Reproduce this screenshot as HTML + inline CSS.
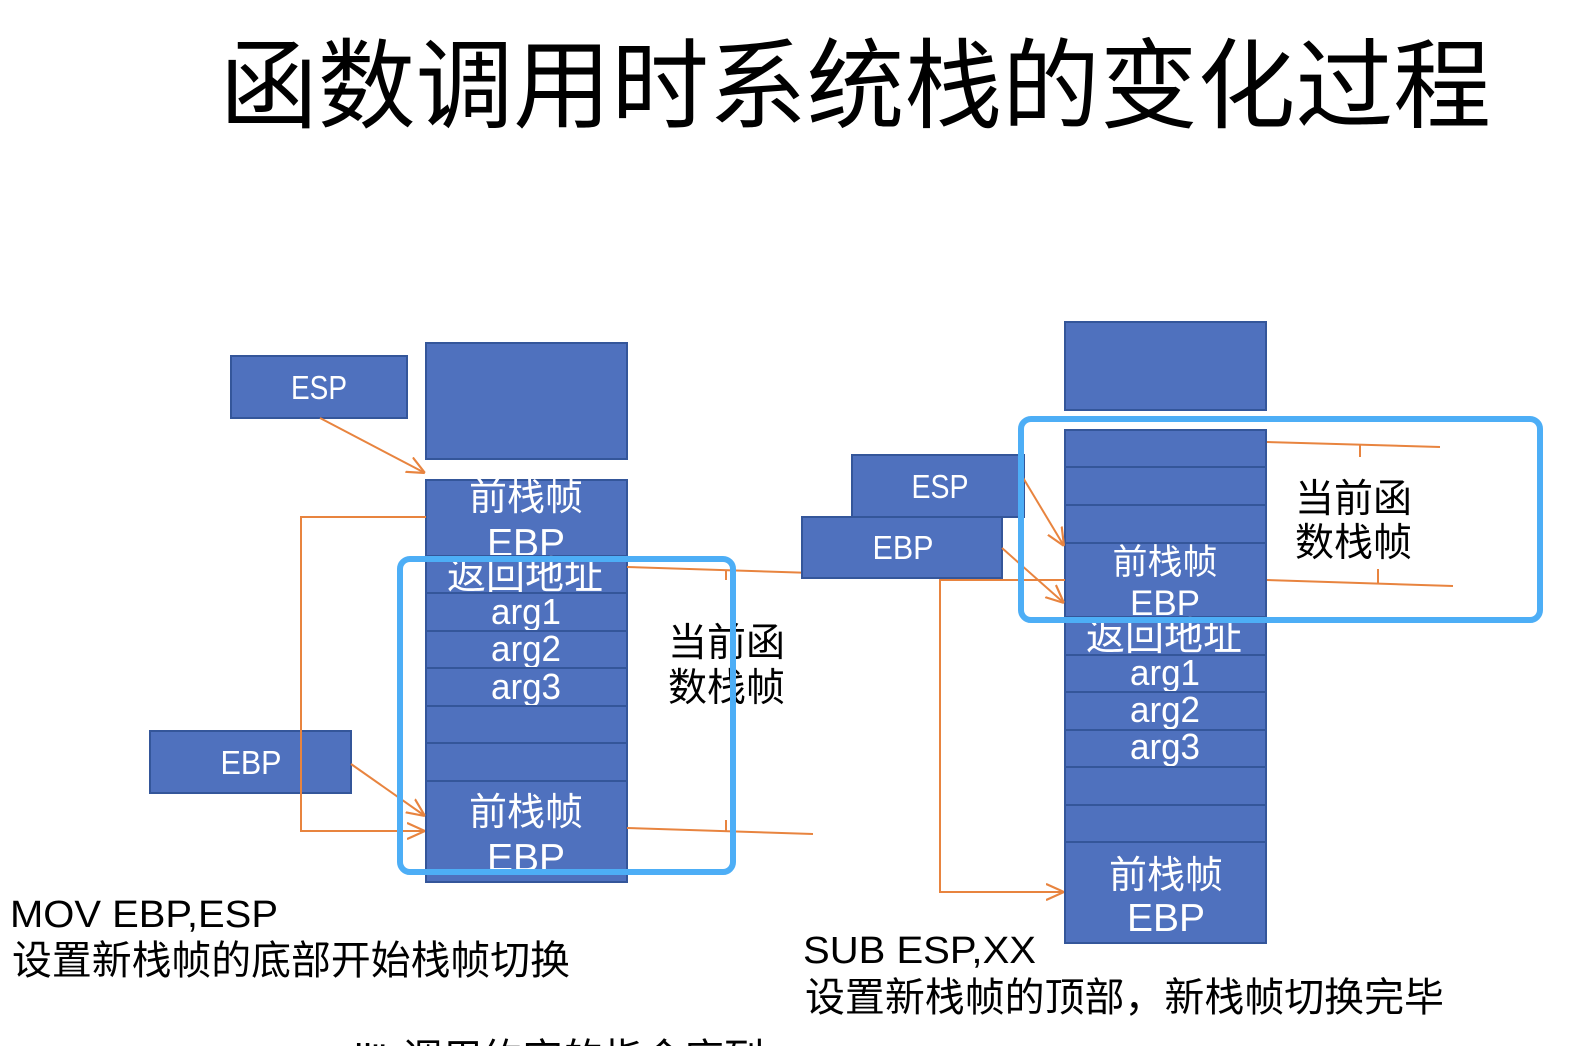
<!DOCTYPE html>
<html>
<head>
<meta charset="utf-8">
<style>
html,body{margin:0;padding:0;background:#fff;}
svg{display:block;}
text{font-family:"Liberation Sans","Noto Sans CJK SC",sans-serif;}
.cj{font-family:"Noto Sans CJK SC","WenQuanYi Zen Hei",sans-serif;}
.w{fill:#fff;}
.k{fill:#000;}
.box{fill:#4F71BE;stroke:#34569A;stroke-width:2;}
.or{stroke:#E8843F;stroke-width:2;fill:none;}
.hl{fill:none;stroke:#4DAEF6;stroke-width:6;}
</style>
</head>
<body>
<svg width="1576" height="1046" viewBox="0 0 1576 1046" xmlns="http://www.w3.org/2000/svg">
<defs>
<marker id="ar" viewBox="0 0 10 10" refX="10" refY="5" markerWidth="18" markerHeight="18" markerUnits="userSpaceOnUse" orient="auto">
<path d="M0,0.5 L10,5 L0,9.5" fill="none" stroke="#E8843F" stroke-width="1.2"/>
</marker>
</defs>

<!-- Title -->
<text class="cj k" x="220" y="120" font-size="98" textLength="1271" lengthAdjust="spacingAndGlyphs">函数调用时系统栈的变化过程</text>

<!-- ================= LEFT DIAGRAM ================= -->
<rect class="box" x="231" y="356" width="176" height="62"/>
<text class="w" x="319" y="399" font-size="33" text-anchor="middle" textLength="56" lengthAdjust="spacingAndGlyphs">ESP</text>

<rect class="box" x="426" y="343" width="201" height="116"/>

<!-- stack rows -->
<rect class="box" x="426" y="480" width="201" height="76"/>
<text class="cj w" x="526" y="510" font-size="38" text-anchor="middle">前栈帧</text>
<text class="w" x="526" y="556" font-size="39" text-anchor="middle">EBP</text>
<rect class="box" x="426" y="556" width="201" height="37"/>
<text class="cj w" x="525" y="589" font-size="39" text-anchor="middle">返回地址</text>
<rect class="box" x="426" y="593" width="201" height="38"/>
<text class="w" x="526" y="624" font-size="36" text-anchor="middle" textLength="70" lengthAdjust="spacingAndGlyphs">arg1</text>
<rect class="box" x="426" y="631" width="201" height="37"/>
<text class="w" x="526" y="661" font-size="36" text-anchor="middle" textLength="70" lengthAdjust="spacingAndGlyphs">arg2</text>
<rect class="box" x="426" y="668" width="201" height="38"/>
<text class="w" x="526" y="699" font-size="36" text-anchor="middle" textLength="70" lengthAdjust="spacingAndGlyphs">arg3</text>
<rect class="box" x="426" y="706" width="201" height="37"/>
<rect class="box" x="426" y="743" width="201" height="38"/>
<rect class="box" x="426" y="781" width="201" height="101"/>
<text class="cj w" x="526" y="825" font-size="38" text-anchor="middle">前栈帧</text>
<text class="w" x="526" y="871" font-size="39" text-anchor="middle">EBP</text>

<rect class="box" x="150" y="731" width="201" height="62"/>
<text class="w" x="251" y="774" font-size="33" text-anchor="middle" textLength="61" lengthAdjust="spacingAndGlyphs">EBP</text>

<!-- left connectors -->
<line class="or" x1="320" y1="418" x2="425" y2="473" marker-end="url(#ar)"/>
<line class="or" x1="351" y1="764" x2="425" y2="816" marker-end="url(#ar)"/>
<polyline class="or" points="426,517 301,517 301,831 425,831" marker-end="url(#ar)"/>
<line class="or" x1="627" y1="567" x2="813" y2="573"/>
<line class="or" x1="726" y1="570" x2="726" y2="580"/>
<line class="or" x1="627" y1="828" x2="813" y2="834"/>
<line class="or" x1="726" y1="820" x2="726" y2="831"/>

<text class="cj k" x="668" y="656" font-size="39">当前函</text>
<text class="cj k" x="668" y="701" font-size="39">数栈帧</text>

<rect class="hl" x="400" y="559" width="333" height="313" rx="10"/>

<!-- ================= RIGHT DIAGRAM ================= -->
<rect class="box" x="1065" y="322" width="201" height="88"/>

<rect class="box" x="1065" y="430" width="201" height="37"/>
<rect class="box" x="1065" y="467" width="201" height="38"/>
<rect class="box" x="1065" y="505" width="201" height="38"/>
<rect class="box" x="1065" y="543" width="201" height="74"/>
<text class="cj w" x="1165" y="574" font-size="35" text-anchor="middle">前栈帧</text>
<text class="w" x="1165" y="615" font-size="35" text-anchor="middle">EBP</text>
<rect class="box" x="1065" y="617" width="201" height="38"/>
<text class="cj w" x="1164" y="650" font-size="39" text-anchor="middle">返回地址</text>
<rect class="box" x="1065" y="655" width="201" height="37"/>
<text class="w" x="1165" y="685" font-size="36" text-anchor="middle" textLength="70" lengthAdjust="spacingAndGlyphs">arg1</text>
<rect class="box" x="1065" y="692" width="201" height="38"/>
<text class="w" x="1165" y="722" font-size="36" text-anchor="middle" textLength="70" lengthAdjust="spacingAndGlyphs">arg2</text>
<rect class="box" x="1065" y="730" width="201" height="37"/>
<text class="w" x="1165" y="759" font-size="36" text-anchor="middle" textLength="70" lengthAdjust="spacingAndGlyphs">arg3</text>
<rect class="box" x="1065" y="767" width="201" height="38"/>
<rect class="box" x="1065" y="805" width="201" height="37"/>
<rect class="box" x="1065" y="842" width="201" height="101"/>
<text class="cj w" x="1166" y="888" font-size="38" text-anchor="middle">前栈帧</text>
<text class="w" x="1166" y="931" font-size="39" text-anchor="middle">EBP</text>

<rect class="box" x="852" y="455" width="172" height="62"/>
<text class="w" x="940" y="498" font-size="33" text-anchor="middle" textLength="57" lengthAdjust="spacingAndGlyphs">ESP</text>
<rect class="box" x="802" y="517" width="200" height="61"/>
<text class="w" x="903" y="559" font-size="33" text-anchor="middle" textLength="61" lengthAdjust="spacingAndGlyphs">EBP</text>

<!-- right connectors -->
<line class="or" x1="1022" y1="476" x2="1064" y2="546" marker-end="url(#ar)"/>
<line class="or" x1="1002" y1="548" x2="1064" y2="603" marker-end="url(#ar)"/>
<polyline class="or" points="1065,580 940,580 940,892 1064,892" marker-end="url(#ar)"/>
<line class="or" x1="1267" y1="442" x2="1440" y2="447"/>
<line class="or" x1="1360" y1="444" x2="1360" y2="457"/>
<line class="or" x1="1267" y1="580" x2="1453" y2="586"/>
<line class="or" x1="1378" y1="569" x2="1378" y2="583"/>

<text class="cj k" x="1295" y="512" font-size="39">当前函</text>
<text class="cj k" x="1295" y="556" font-size="39">数栈帧</text>

<rect class="hl" x="1021" y="419" width="519" height="201" rx="10"/>

<!-- bottom texts -->
<text class="k" x="10" y="927" font-size="38" textLength="268" lengthAdjust="spacingAndGlyphs">MOV EBP,ESP</text>
<text class="cj k" x="12" y="974" font-size="40" textLength="558" lengthAdjust="spacingAndGlyphs">设置新栈帧的底部开始栈帧切换</text>
<text class="k" x="803" y="963" font-size="38" textLength="233" lengthAdjust="spacingAndGlyphs">SUB ESP,XX</text>
<text class="cj k" x="805" y="1011" font-size="40" textLength="639" lengthAdjust="spacingAndGlyphs">设置新栈帧的顶部，新栈帧切换完毕</text>
<text class="k" x="312" y="1072" font-size="40">call"</text>
<text class="cj k" x="402" y="1072" font-size="40" textLength="362" lengthAdjust="spacingAndGlyphs">调用约定的指令序列</text>
</svg>
</body>
</html>
